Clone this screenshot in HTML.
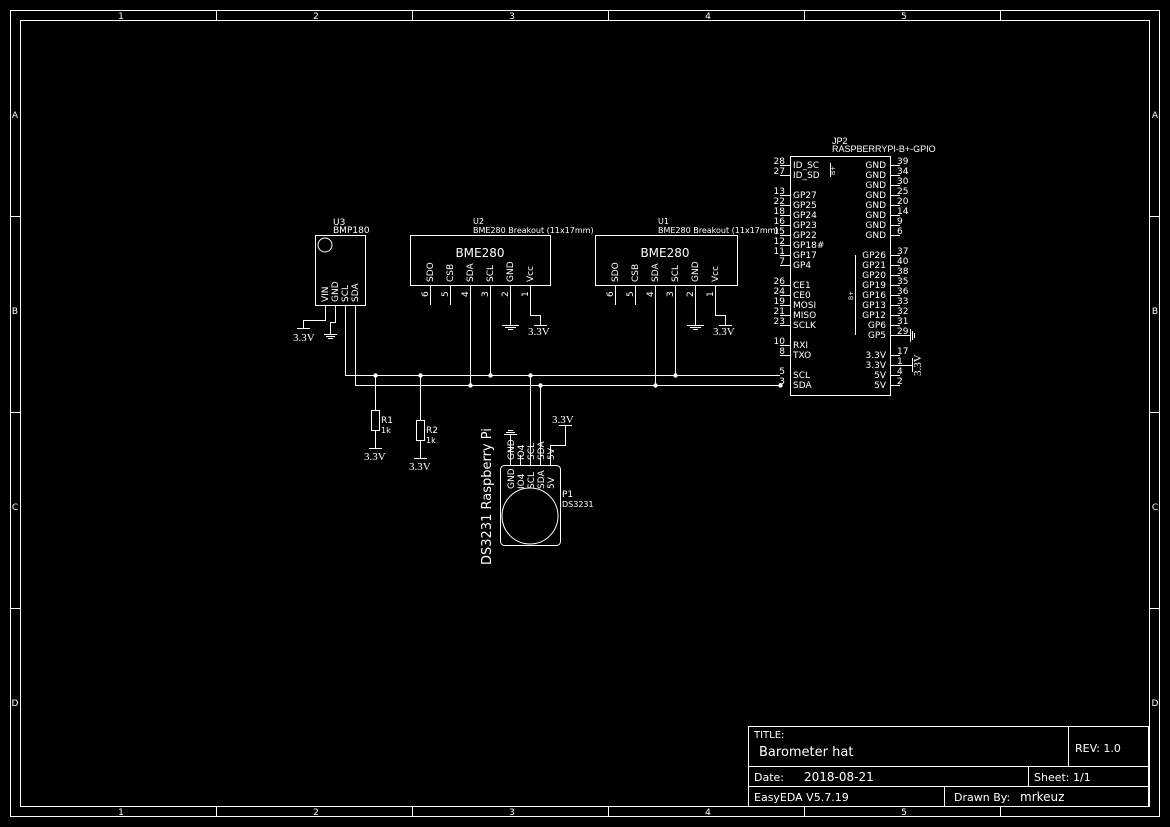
<!DOCTYPE html>
<html><head><meta charset="utf-8"><style>
html,body{margin:0;padding:0;background:#000;}
svg{display:block}
text{font-family:"DejaVu Sans",sans-serif;fill:#fff}
.s{font-size:9px}
.serif{font-family:"Liberation Serif",serif;font-size:11px}
</style></head><body>
<svg width="1170" height="827" viewBox="0 0 1170 827" xmlns="http://www.w3.org/2000/svg" stroke="#fff" fill="none" stroke-width="1">
<!-- frame -->
<rect x="10.5" y="10.5" width="1149" height="806"/>
<rect x="20.5" y="20.5" width="1129" height="786"/>
<g>
<line x1="216.5" y1="10" x2="216.5" y2="20"/><line x1="412.5" y1="10" x2="412.5" y2="20"/><line x1="608.5" y1="10" x2="608.5" y2="20"/><line x1="804.5" y1="10" x2="804.5" y2="20"/><line x1="1000.5" y1="10" x2="1000.5" y2="20"/>
<line x1="216.5" y1="807" x2="216.5" y2="817"/><line x1="412.5" y1="807" x2="412.5" y2="817"/><line x1="608.5" y1="807" x2="608.5" y2="817"/><line x1="804.5" y1="807" x2="804.5" y2="817"/><line x1="1000.5" y1="807" x2="1000.5" y2="817"/>
<line x1="10" y1="216.5" x2="20" y2="216.5"/><line x1="10" y1="412.5" x2="20" y2="412.5"/><line x1="10" y1="608.5" x2="20" y2="608.5"/><line x1="1150" y1="216.5" x2="1160" y2="216.5"/><line x1="1150" y1="412.5" x2="1160" y2="412.5"/><line x1="1150" y1="608.5" x2="1160" y2="608.5"/>
</g>
<g stroke="none" class="s" text-anchor="middle" font-size="9">
<text x="121" y="19">1</text><text x="316" y="19">2</text><text x="512" y="19">3</text><text x="708" y="19">4</text><text x="904" y="19">5</text>
<text x="121" y="815">1</text><text x="316" y="815">2</text><text x="512" y="815">3</text><text x="708" y="815">4</text><text x="904" y="815">5</text>
<text x="15" y="118">A</text><text x="15" y="314">B</text><text x="15" y="510">C</text><text x="15" y="706">D</text>
<text x="1155" y="118">A</text><text x="1155" y="314">B</text><text x="1155" y="510">C</text><text x="1155" y="706">D</text>
</g>
<!-- title block -->
<rect x="748.5" y="726.5" width="400" height="80"/>
<line x1="748" y1="766.5" x2="1148" y2="766.5"/><line x1="748" y1="786.5" x2="1148" y2="786.5"/>
<line x1="1068.5" y1="726" x2="1068.5" y2="766"/><line x1="1028.5" y1="766" x2="1028.5" y2="786"/><line x1="944.5" y1="786" x2="944.5" y2="806"/>
<g stroke="none">
<text x="754" y="738" font-size="10">TITLE:</text>
<text x="759" y="756" font-size="13">Barometer hat</text>
<text x="1075" y="752" font-size="11">REV:  1.0</text>
<text x="754" y="781" font-size="11">Date:</text><text x="804" y="781" font-size="12">2018-08-21</text>
<text x="1034" y="781" font-size="11">Sheet:   1/1</text>
<text x="754" y="801" font-size="11">EasyEDA V5.7.19</text>
<text x="954" y="801" font-size="11">Drawn By:</text><text x="1020" y="801" font-size="12">mrkeuz</text>
</g>

<!-- U3 BMP180 -->
<rect x="315.5" y="235.5" width="50" height="70"/>
<circle cx="325" cy="245" r="7"/>
<g stroke="none" class="s">
<text x="333" y="225">U3</text><text x="333" y="233">BMP180</text>
<g font-size="9"><text transform="translate(328,302) rotate(-90)">VIN</text><text transform="translate(338,302) rotate(-90)">GND</text><text transform="translate(348,302) rotate(-90)">SCL</text><text transform="translate(358,302) rotate(-90)">SDA</text></g>
</g>
<polyline points="325.5,305 325.5,320.5 303.5,320.5 303.5,328"/><line x1="297" y1="328.5" x2="310" y2="328.5"/>
<polyline points="335.5,305 335.5,322.5 330.5,322.5 330.5,334"/>
<line x1="324" y1="334.5" x2="337" y2="334.5"/><line x1="326" y1="336.5" x2="335" y2="336.5"/><line x1="328" y1="338.5" x2="333" y2="338.5"/>
<text x="293" y="341" class="serif" stroke="none">3.3V</text>
<!-- buses -->
<polyline points="345.5,305 345.5,375.5 780,375.5"/>
<polyline points="355.5,305 355.5,385.5 780,385.5"/>

<!-- U2 -->
<rect x="410.5" y="235.5" width="140" height="50"/>
<g stroke="none">
<text x="473" y="224" font-size="8">U2</text>
<text x="473" y="233" font-size="8">BME280 Breakout (11x17mm)</text>
<text x="480" y="257" font-size="12" text-anchor="middle">BME280</text>
<g font-size="9"><text transform="translate(433,282) rotate(-90)">SDO</text><text transform="translate(453,282) rotate(-90)">CSB</text><text transform="translate(473,282) rotate(-90)">SDA</text><text transform="translate(493,282) rotate(-90)">SCL</text><text transform="translate(513,282) rotate(-90)">GND</text><text transform="translate(533,282) rotate(-90)">Vcc</text>
<text transform="translate(428,297) rotate(-90)">6</text><text transform="translate(448,297) rotate(-90)">5</text><text transform="translate(468,297) rotate(-90)">4</text><text transform="translate(488,297) rotate(-90)">3</text><text transform="translate(508,297) rotate(-90)">2</text><text transform="translate(528,297) rotate(-90)">1</text></g>
</g>
<line x1="430.5" y1="285" x2="430.5" y2="305"/><line x1="450.5" y1="285" x2="450.5" y2="305"/>
<line x1="470.5" y1="285" x2="470.5" y2="385"/><line x1="490.5" y1="285" x2="490.5" y2="375"/>
<line x1="510.5" y1="285" x2="510.5" y2="325"/>
<line x1="502" y1="325.5" x2="519" y2="325.5"/><line x1="505" y1="327.5" x2="516" y2="327.5"/><line x1="508" y1="329.5" x2="513" y2="329.5"/>
<polyline points="530.5,285 530.5,315.5 540.5,315.5 540.5,325"/><line x1="534" y1="325.5" x2="547" y2="325.5"/>
<text x="528" y="335" class="serif" stroke="none">3.3V</text>

<!-- U1 -->
<rect x="595.5" y="235.5" width="142" height="50"/>
<g stroke="none">
<text x="658" y="224" font-size="8">U1</text>
<text x="658" y="233" font-size="8">BME280 Breakout (11x17mm)</text>
<text x="665" y="257" font-size="12" text-anchor="middle">BME280</text>
<g font-size="9"><text transform="translate(618,282) rotate(-90)">SDO</text><text transform="translate(638,282) rotate(-90)">CSB</text><text transform="translate(658,282) rotate(-90)">SDA</text><text transform="translate(678,282) rotate(-90)">SCL</text><text transform="translate(698,282) rotate(-90)">GND</text><text transform="translate(718,282) rotate(-90)">Vcc</text>
<text transform="translate(613,297) rotate(-90)">6</text><text transform="translate(633,297) rotate(-90)">5</text><text transform="translate(653,297) rotate(-90)">4</text><text transform="translate(673,297) rotate(-90)">3</text><text transform="translate(693,297) rotate(-90)">2</text><text transform="translate(713,297) rotate(-90)">1</text></g>
</g>
<line x1="615.5" y1="285" x2="615.5" y2="305"/><line x1="635.5" y1="285" x2="635.5" y2="305"/>
<line x1="655.5" y1="285" x2="655.5" y2="385"/><line x1="675.5" y1="285" x2="675.5" y2="375"/>
<line x1="695.5" y1="285" x2="695.5" y2="325"/>
<line x1="687" y1="325.5" x2="704" y2="325.5"/><line x1="690" y1="327.5" x2="701" y2="327.5"/><line x1="693" y1="329.5" x2="698" y2="329.5"/>
<polyline points="715.5,285 715.5,315.5 725.5,315.5 725.5,325"/><line x1="719" y1="325.5" x2="732" y2="325.5"/>
<text x="713" y="335" class="serif" stroke="none">3.3V</text>

<!-- junctions -->
<g fill="#fff" stroke="none">
<circle cx="375.5" cy="375.5" r="2.2"/><circle cx="420.5" cy="375.5" r="2.2"/><circle cx="490.5" cy="375.5" r="2.2"/><circle cx="530.5" cy="375.5" r="2.2"/><circle cx="675.5" cy="375.5" r="2.2"/>
<circle cx="470.5" cy="385.5" r="2.2"/><circle cx="540.5" cy="385.5" r="2.2"/><circle cx="655.5" cy="385.5" r="2.2"/><circle cx="780.5" cy="385.5" r="2.2"/>
</g>

<!-- R1 R2 -->
<line x1="375.5" y1="375" x2="375.5" y2="410"/><rect x="371.5" y="410.5" width="8" height="20"/><line x1="375.5" y1="430" x2="375.5" y2="448"/><line x1="369" y1="448.5" x2="382" y2="448.5"/>
<text x="381" y="423" font-size="9" stroke="none">R1</text><text x="381" y="433" font-size="8" stroke="none">1k</text>
<text x="364" y="460" class="serif" stroke="none">3.3V</text>
<line x1="420.5" y1="375" x2="420.5" y2="420"/><rect x="416.5" y="420.5" width="8" height="20"/><line x1="420.5" y1="440" x2="420.5" y2="458"/><line x1="414" y1="458.5" x2="427" y2="458.5"/>
<text x="426" y="433" font-size="9" stroke="none">R2</text><text x="426" y="443" font-size="8" stroke="none">1k</text>
<text x="409" y="470" class="serif" stroke="none">3.3V</text>

<!-- P1 DS3231 -->
<rect x="500.5" y="465.5" width="60" height="80" rx="4"/>
<circle cx="530" cy="516" r="28"/>
<line x1="510.5" y1="465" x2="510.5" y2="434"/>
<line x1="504" y1="434.5" x2="517" y2="434.5"/><line x1="506" y1="432.5" x2="515" y2="432.5"/><line x1="508" y1="430.5" x2="513" y2="430.5"/>
<line x1="520.5" y1="465" x2="520.5" y2="455"/>
<line x1="530.5" y1="465" x2="530.5" y2="375"/>
<line x1="540.5" y1="465" x2="540.5" y2="385"/>
<polyline points="550.5,465 550.5,445.5 565.5,445.5 565.5,426"/><line x1="559" y1="425.5" x2="572" y2="425.5"/>
<text x="552" y="423" class="serif" stroke="none">3.3V</text>
<g stroke="none" font-size="9">
<text transform="translate(514,489) rotate(-90)">GND</text><text transform="translate(524,489) rotate(-90)">IO4</text><text transform="translate(534,489) rotate(-90)">SCL</text><text transform="translate(544,489) rotate(-90)">SDA</text><text transform="translate(554,489) rotate(-90)">5V</text>
<text transform="translate(514,460) rotate(-90)">GND</text><text transform="translate(524,460) rotate(-90)">IO4</text><text transform="translate(534,460) rotate(-90)">SCL</text><text transform="translate(544,460) rotate(-90)">SDA</text><text transform="translate(554,460) rotate(-90)">5V</text>
<text x="562" y="497" font-size="9">P1</text><text x="562" y="507" font-size="8">DS3231</text>
<text transform="translate(491,565) rotate(-90)" font-size="13">DS3231 Raspberry Pi</text>
</g>

<!-- JP2 -->
<rect x="790.5" y="156.5" width="100" height="239"/>
<g stroke="none">
<text x="832" y="144" font-size="9" style="font-family:'Liberation Sans',sans-serif">JP2</text><text x="832" y="152" font-size="9" style="font-family:'Liberation Sans',sans-serif">RASPBERRYPI-B+-GPIO</text>
<text transform="translate(835,175) rotate(-90)" font-size="6">B+</text>
<text transform="translate(853,300) rotate(-90)" font-size="6">B+</text>
</g>
<line x1="830.5" y1="163" x2="830.5" y2="177"/>
<line x1="855.5" y1="255" x2="855.5" y2="335"/>
<g stroke="none" font-size="9">
<text x="793" y="168">ID_SC</text><text x="793" y="178">ID_SD</text>
<text x="793" y="198">GP27</text><text x="793" y="208">GP25</text><text x="793" y="218">GP24</text><text x="793" y="228">GP23</text><text x="793" y="238">GP22</text><text x="793" y="248">GP18#</text><text x="793" y="258">GP17</text><text x="793" y="268">GP4</text>
<text x="793" y="288">CE1</text><text x="793" y="298">CE0</text><text x="793" y="308">MOSI</text><text x="793" y="318">MISO</text><text x="793" y="328">SCLK</text>
<text x="793" y="348">RXI</text><text x="793" y="358">TXO</text><text x="793" y="378">SCL</text><text x="793" y="388">SDA</text>
<g text-anchor="end">
<text x="785" y="164">28</text><text x="785" y="174">27</text><text x="785" y="194">13</text><text x="785" y="204">22</text><text x="785" y="214">18</text><text x="785" y="224">16</text><text x="785" y="234">15</text><text x="785" y="244">12</text><text x="785" y="254">11</text><text x="785" y="264">7</text>
<text x="785" y="284">26</text><text x="785" y="294">24</text><text x="785" y="304">19</text><text x="785" y="314">21</text><text x="785" y="324">23</text><text x="785" y="344">10</text><text x="785" y="354">8</text><text x="785" y="374">5</text><text x="785" y="384">3</text>
<text x="886" y="168">GND</text><text x="886" y="178">GND</text><text x="886" y="188">GND</text><text x="886" y="198">GND</text><text x="886" y="208">GND</text><text x="886" y="218">GND</text><text x="886" y="228">GND</text><text x="886" y="238">GND</text>
<text x="886" y="258">GP26</text><text x="886" y="268">GP21</text><text x="886" y="278">GP20</text><text x="886" y="288">GP19</text><text x="886" y="298">GP16</text><text x="886" y="308">GP13</text><text x="886" y="318">GP12</text><text x="886" y="328">GP6</text><text x="886" y="338">GP5</text>
<text x="886" y="358">3.3V</text><text x="886" y="368">3.3V</text><text x="886" y="378">5V</text><text x="886" y="388">5V</text>
</g>
<text x="897" y="164">39</text><text x="897" y="174">34</text><text x="897" y="184">30</text><text x="897" y="194">25</text><text x="897" y="204">20</text><text x="897" y="214">14</text><text x="897" y="224">9</text><text x="897" y="234">6</text>
<text x="897" y="254">37</text><text x="897" y="264">40</text><text x="897" y="274">38</text><text x="897" y="284">35</text><text x="897" y="294">36</text><text x="897" y="304">33</text><text x="897" y="314">32</text><text x="897" y="324">31</text><text x="897" y="334">29</text>
<text x="897" y="354">17</text><text x="897" y="364">1</text><text x="897" y="374">4</text><text x="897" y="384">2</text>
</g>
<g>
<path d="M780 165.5h10M780 175.5h10M780 195.5h10M780 205.5h10M780 215.5h10M780 225.5h10M780 235.5h10M780 245.5h10M780 255.5h10M780 265.5h10M780 285.5h10M780 295.5h10M780 305.5h10M780 315.5h10M780 325.5h10M780 345.5h10M780 355.5h10"/>
<path d="M890 165.5h10M890 175.5h10M890 185.5h10M890 195.5h10M890 205.5h10M890 215.5h10M890 225.5h10M890 235.5h10M890 255.5h10M890 265.5h10M890 275.5h10M890 285.5h10M890 295.5h10M890 305.5h10M890 315.5h10M890 325.5h10M890 335.5h20M890 355.5h10M890 365.5h22M890 375.5h10M890 385.5h10"/>
<path d="M910.5 329v13M912.5 331v9M914.5 333v5"/>
<path d="M912.5 358v14"/>
</g>
<text transform="translate(921,376) rotate(-90)" class="serif" stroke="none">3.3V</text>
</svg>
</body></html>
